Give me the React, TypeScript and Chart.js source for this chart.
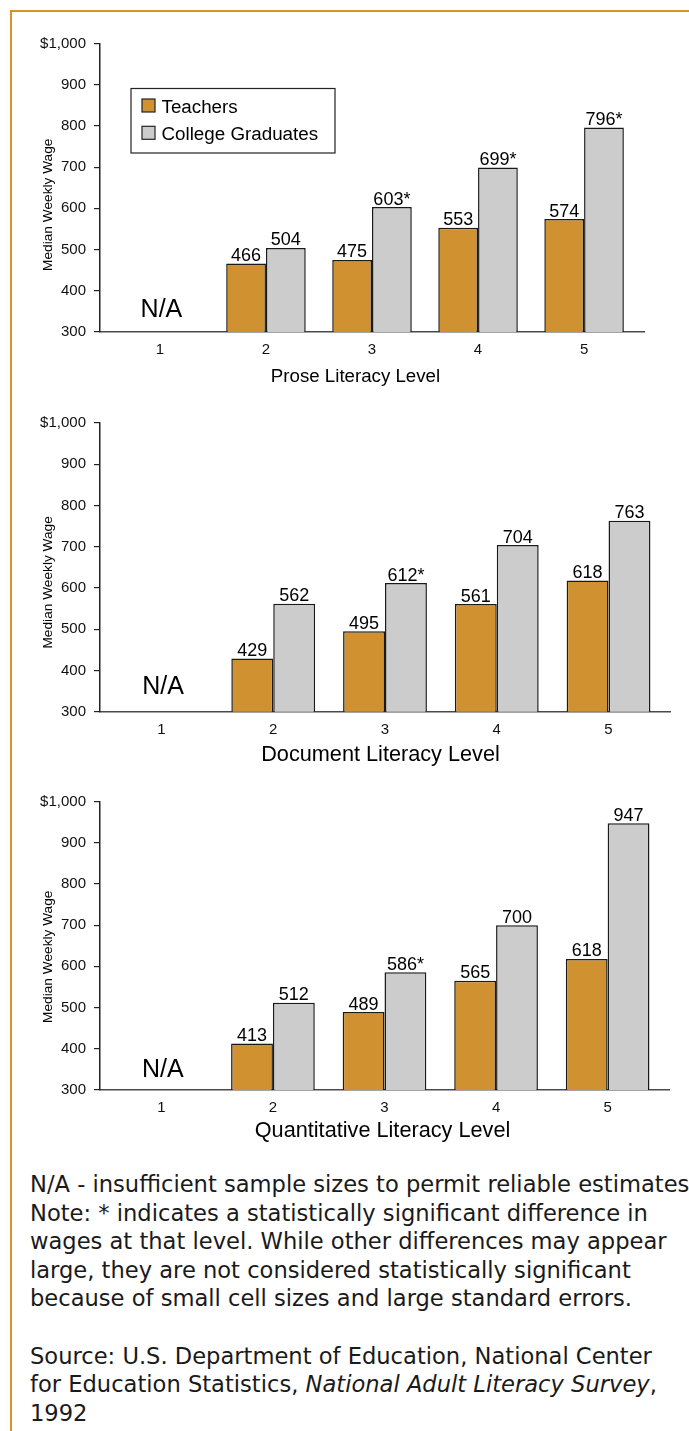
import React, { useEffect, useRef } from 'react';
import { Chart, registerables } from 'chart.js';

Chart.register(...registerables);

// ---------- data ----------
const levels = [1, 2, 3, 4, 5];
const xTickLabels = ['1', '2', '3', '4', '5'];
const yTicks = [300, 400, 500, 600, 700, 800, 900, 1000];
const yTickLabels = ['300', '400', '500', '600', '700', '800', '900', '$1,000'];
const seriesNames = ['Teachers', 'College Graduates'];

const proseTeachers = [null, 466, 475, 553, 574];
const proseCollege = [null, 504, 603, 699, 796];
const proseSignificant = [false, false, true, true, true];

const documentTeachers = [null, 429, 495, 561, 618];
const documentCollege = [null, 562, 612, 704, 763];
const documentSignificant = [false, false, true, false, false];

const quantTeachers = [null, 413, 489, 565, 618];
const quantCollege = [null, 512, 586, 700, 947];
const quantSignificant = [false, false, true, false, false];

const panelTitles = ['Prose Literacy Level', 'Document Literacy Level', 'Quantitative Literacy Level'];
const yAxisTitle = 'Median Weekly Wage';
const naText = 'N/A';

const footnoteLines = [
  'N/A - insufficient sample sizes to permit reliable estimates.',
  'Note: * indicates a statistically significant difference in',
  'wages at that level. While other differences may appear',
  'large, they are not considered statistically significant',
  'because of small cell sizes and large standard errors.',
];
const sourceLine1 = 'Source: U.S. Department of Education, National Center';
const sourceLine2a = 'for Education Statistics, ';
const sourceLine2b = 'National Adult Literacy Survey';
const sourceLine2c = ',';
const sourceLine3 = '1992';

// ---------- style ----------
const FONT = '"Liberation Sans", Arial, Helvetica, sans-serif';
const ORANGE = '#D09231';
const GRAY = '#CCCCCC';
const FRAME = '#D8922C';

type Panel = {
  title: string;
  teachers: (number | null)[];
  college: (number | null)[];
  sig: boolean[];
  top: number;
  height: number;
  padTop: number;
  padRight: number;
  axisH: number;
  xMin: number;
  xMax: number;
  yTitleShift: number;
  naLift: number;
  titleSize: number;
  titleDx: number;
  titleDy: number;
  legend: boolean;
};

const panels: Panel[] = [
  { title: panelTitles[0], teachers: proseTeachers, college: proseCollege, sig: proseSignificant,
    top: 0, height: 400, padTop: 43.5, padRight: 45, axisH: 68, xMin: 0.435, xMax: 5.565,
    yTitleShift: 17, naLift: 15.5, titleSize: 18.7, titleDx: -16.5, titleDy: 50, legend: true },
  { title: panelTitles[1], teachers: documentTeachers, college: documentCollege, sig: documentSignificant,
    top: 400, height: 380, padTop: 23, padRight: 19, axisH: 68.3, xMin: 0.45, xMax: 5.55,
    yTitleShift: 15, naLift: 17.5, titleSize: 21.7, titleDx: -4.5, titleDy: 49, legend: false },
  { title: panelTitles[2], teachers: quantTeachers, college: quantCollege, sig: quantSignificant,
    top: 780, height: 380, padTop: 21.5, padRight: 20, axisH: 70, xMin: 0.45, xMax: 5.55,
    yTitleShift: 11, naLift: 13, titleSize: 21.7, titleDx: -2, titleDy: 47.3, legend: false },
];

function makeDecor(panel: Panel) {
  return {
    id: 'decor',
    afterDatasetsDraw(chart: any) {
      const { ctx, chartArea, scales } = chart;
      ctx.save();
      // value labels
      ctx.fillStyle = '#000';
      ctx.font = `18px ${FONT}`;
      ctx.textAlign = 'center';
      ctx.textBaseline = 'alphabetic';
      chart.data.datasets.forEach((ds: any, di: number) => {
        const meta = chart.getDatasetMeta(di);
        meta.data.forEach((el: any, i: number) => {
          const v = ds.data[i].y;
          if (v === null || v === undefined) return;
          const star = di === 1 && panel.sig[i] ? '*' : '';
          ctx.fillText(String(v) + star, el.x, el.y - 2.5);
        });
      });
      // N/A
      ctx.font = `25px ${FONT}`;
      ctx.fillText(naText, scales.x.getPixelForValue(levels[0]) + 1.5, chartArea.bottom - panel.naLift);
      // x title
      ctx.font = `${panel.titleSize}px ${FONT}`;
      ctx.fillText(
        panel.title,
        (chartArea.left + chartArea.right) / 2 + panel.titleDx,
        chartArea.bottom + panel.titleDy
      );
      // y title
      ctx.font = `13.7px ${FONT}`;
      ctx.translate(48, (chartArea.top + chartArea.bottom) / 2 + panel.yTitleShift);
      ctx.rotate(-Math.PI / 2);
      ctx.textBaseline = 'middle';
      ctx.fillText(yAxisTitle, 0, 0);
      ctx.restore();

      if (panel.legend) {
        ctx.save();
        const lx = chartArea.left + 31;
        const ly = chartArea.top + 45;
        ctx.strokeStyle = '#222';
        ctx.lineWidth = 1.2;
        ctx.strokeRect(lx, ly, 204, 64.5);
        ctx.font = `18.8px ${FONT}`;
        ctx.textAlign = 'left';
        ctx.textBaseline = 'alphabetic';
        chart.data.datasets.forEach((ds: any, di: number) => {
          const sy = ly + 10.5 + di * 27.3;
          ctx.fillStyle = ds.backgroundColor;
          ctx.fillRect(lx + 11, sy, 13, 13);
          ctx.strokeStyle = '#222';
          ctx.lineWidth = 1.2;
          ctx.strokeRect(lx + 11, sy, 13, 13);
          ctx.fillStyle = '#000';
          ctx.fillText(ds.label, lx + 30.5, sy + 13.5);
        });
        ctx.restore();
      }
    },
  };
}

function BarPanel({ panel }: { panel: Panel }) {
  const ref = useRef<HTMLCanvasElement>(null);
  useEffect(() => {
    if (!ref.current) return;
    const chart = new Chart(ref.current, {
      type: 'bar',
      data: {
        datasets: [
          {
            label: seriesNames[0],
            data: levels.map((x, i) => ({ x, y: panel.teachers[i] })) as any,
            backgroundColor: ORANGE,
            borderColor: '#1a1a1a',
            borderWidth: 1.5,
            borderSkipped: 'bottom',
            categoryPercentage: 0.75,
            barPercentage: 1,
          },
          {
            label: seriesNames[1],
            data: levels.map((x, i) => ({ x, y: panel.college[i] })) as any,
            backgroundColor: GRAY,
            borderColor: '#1a1a1a',
            borderWidth: 1.5,
            borderSkipped: 'bottom',
            categoryPercentage: 0.75,
            barPercentage: 1,
          },
        ],
      },
      options: {
        responsive: false,
        animation: false,
        devicePixelRatio: 1,
        layout: { padding: { top: panel.padTop, right: panel.padRight, bottom: 0, left: 0 } },
        plugins: { legend: { display: false }, tooltip: { enabled: false } },
        scales: {
          x: {
            type: 'linear',
            offset: false,
            min: panel.xMin,
            max: panel.xMax,
            afterBuildTicks: (s: any) => {
              s.ticks = levels.map((v) => ({ value: v }));
            },
            afterFit: (s: any) => {
              s.height = panel.axisH;
            },
            grid: { display: false, drawTicks: false },
            border: { display: true, color: '#4a4a4a', width: 1.5 },
            ticks: {
              font: { family: FONT, size: 15 },
              color: '#111',
              padding: 9,
              maxRotation: 0,
              callback: (v: any) => xTickLabels[levels.indexOf(Number(v))] ?? '',
            },
            title: { display: false },
          },
          y: {
            min: yTicks[0],
            max: yTicks[yTicks.length - 1],
            afterBuildTicks: (s: any) => {
              s.ticks = yTicks.map((v) => ({ value: v }));
            },
            afterFit: (s: any) => {
              s.width = 100;
            },
            grid: { drawOnChartArea: false, drawTicks: true, tickLength: 6, color: '#222', lineWidth: 1.2 },
            border: { display: true, color: '#222', width: 1.5 },
            ticks: {
              font: { family: FONT, size: 15 },
              color: '#111',
              padding: 8,
              callback: (v: any) => yTickLabels[yTicks.indexOf(Number(v))] ?? '',
            },
          },
        },
      },
      plugins: [makeDecor(panel)],
    } as any);
    return () => chart.destroy();
  }, [panel]);
  return (
    <canvas
      ref={ref}
      width={689}
      height={panel.height}
      style={{ position: 'absolute', left: 0, top: panel.top, width: 689, height: panel.height }}
    />
  );
}

export default function App() {
  const noteStyle: React.CSSProperties = {
    position: 'absolute',
    left: 30,
    top: 1170,
    fontFamily: '"DejaVu Sans", sans-serif',
    fontSize: 22.6,
    lineHeight: '28.6px',
    color: '#1a1a1a',
    whiteSpace: 'pre',
  };
  return (
    <div style={{ position: 'absolute', left: 0, top: 0, width: 689, height: 1431, overflow: 'hidden', background: '#fff' }}>
      <div
        style={{
          position: 'absolute',
          left: 10,
          top: 9.5,
          width: 800,
          height: 1600,
          borderTop: `2.5px solid ${FRAME}`,
          borderLeft: `2.5px solid ${FRAME}`,
        }}
      />
      {panels.map((p, i) => (
        <BarPanel key={i} panel={p} />
      ))}
      <div style={noteStyle}>
        {footnoteLines.map((l, i) => (
          <div key={i}>{l}</div>
        ))}
        <div>{' '}</div>
        <div>{sourceLine1}</div>
        <div>
          {sourceLine2a}
          <i>{sourceLine2b}</i>
          {sourceLine2c}
        </div>
        <div>{sourceLine3}</div>
      </div>
    </div>
  );
}
